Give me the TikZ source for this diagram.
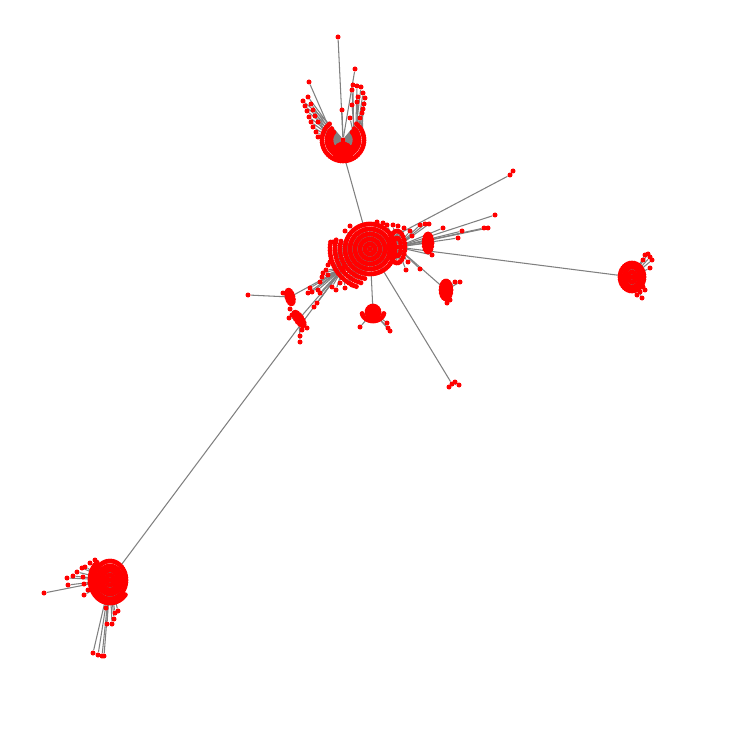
\documentclass[tikz,border=0pt]{standalone}
\usetikzlibrary{backgrounds}
\tikzset{
  >=latex,
}
\tikzstyle{vertex}=[circle,fill=red,inner sep=0pt,minimum size=0.1cm]
\tikzstyle{link}=[gray,line width=0.6pt]

% rings: hub/x radius/y radius/count/rotation
\def\ringlist{
  c/5/5/16/0, c/10/10/31/0, c/15/15/47/0, c/20/20/63/0, c/25/25/78/0,
  q/4/9/14/0, q/8/16/27/0,
  tb/4/4/10/0, tb/8/8/20/0,
  b/4/5/14/0, b/8/10/28/0, b/12/14/40/0, b/16/19/50/0,
  r/4/5/13/0, r/8/10/25/0, r/12/14/36/0,
  s/3/3/8/0, s/6/6/17/0,
  e1/2/5/8/0, e1/4/9/16/0,
  e2/2/5/8/0, e2/5/9/18/0,
  f1/1.5/4/7/15, f1/3/7/14/15,
  f2/1.5/5/8/35, f2/3/8/15/35}
% open rings: hub/x radius/y radius/count/start/sweep
\def\arclist{
  t/12/12/24/-40/260, t/16/16/34/-45/270, t/21/21/44/-50/280,
  b/20/23/40/40/190, s/11/9/16/10/160,
  c/30/30/17/100/95, c/35/35/19/105/90, c/40/40/20/110/80}
% single leaves: end/x/y
\def\leaflist{
  c/377/222, c/383/223, c/350/226, c/345/231,
  q/387/225, q/393/225, q/398/226, q/404/228, q/410/231,
  q/420/225, q/425/224, q/429/224, q/443/228, q/462/231, q/458/238,
  q/495/215, q/488/228, q/484/228,
  q/432/255, q/420/269, q/408/262, q/406/270, q/412/236,
  l/308/293, l/312/292, l/310/288, l/320/282, l/322/277, l/323/273,
  l/318/290, l/328/265, l/330/262, l/317/303, l/314/307, l/320/293,
  l/332/287, l/340/283, l/328/275, l/335/250, l/333/242, l/326/270,
  l/336/290, l/345/288, l/352/285,
  f1/248/295, f1/283/293,
  f2/302/330, f2/300/336, f2/300/342, f2/292/315, f2/290/309,
  f2/289/318, f2/307/328,
  t/338/37, t-a2-33/309/82, t/355/69, t/342/110,
  t-a3-44/303/101, t-a3-43/305/106, t-a3-42/307/111, t-a3-41/309/117,
  t-a3-40/311/122, t-a3-39/313/127, t-a3-38/316/132, t-a3-37/318/137,
  t-a2-34/308/97, t-a2-33/311/104, t-a2-32/313/110, t-a2-31/315/116,
  t-a2-30/318/122,
  t-a1-1/353/85, t-a2-1/357/86, t-a3-0/361/87, t-a1-2/352/90,
  t-a3-1/363/93, t-a3-2/365/98, t-a3-3/364/104, t-a3-4/363/109,
  t-a3-5/362/113, t-a2-2/358/97, t-a2-3/357/102, t-a1-3/352/105,
  t-a2-4/360/118, t-a1-4/350/118,
  r/645/255, r/648/254, r/650/257, r/643/260, r/652/260, r/650/268,
  r/643/287, r/645/290, r/640/292, r/642/298, r/637/295,
  b/44/593, b/67/578, b/73/576, b/68/585, b/77/572, b/82/568,
  b/85/567, b/90/563, b/83/577, b/84/584, b/90/583, b/84/595,
  b/95/560, b/88/590,
  b/93/653, b/98/655, b/102/656, b/104/656, b/106/608, b/115/613,
  b/118/611, b/114/619, b/112/624, b/107/624,
  s/360/327, s/387/323, s/388/328, s/390/331,
  e2/455/282, e2/460/282, e2/447/303, e2/450/300,
  v/449/387, v/455/382, v/459/385,
  w/513/171}

\begin{document}
\begin{tikzpicture}[x=0.02cm,y=-0.02cm]
  \useasboundingbox (0,0) rectangle (736,736);

  % hubs
  \node[vertex] (c) at (370,249) {};
  \node[vertex] (l) at (343,268) {};
  \node[vertex] (q) at (397,247) {};
  \node[vertex] (t) at (343,140) {};
  \node[vertex] (tb) at (343,152) {};
  \node[vertex] (b) at (110,580) {};
  \node[vertex] (r) at (632,277) {};
  \node[vertex] (s) at (373,312) {};
  \node[vertex] (e1) at (428,243) {};
  \node[vertex] (e2) at (446,290) {};
  \node[vertex] (f1) at (290,297) {};
  \node[vertex] (f2) at (299,319) {};
  \node[vertex] (v) at (452,384) {};
  \node[vertex] (w) at (510,175) {};

  % full rings of leaves
  \foreach \h/\rx/\ry/\n/\rot [count=\i] in \ringlist
  {
    \begin{scope}[shift={(\h)},rotate=\rot]
      \foreach \k [evaluate=\k as \a using 360/\n*\k] in {1,...,\n}
        \node[vertex] (\h-\i-\k) at ({\rx*cos(\a)},{\ry*sin(\a)}) {};
    \end{scope}
  }

  % open rings
  \foreach \h/\rx/\ry/\n/\from/\sweep [count=\i] in \arclist
  {
    \begin{scope}[shift={(\h)}]
      \foreach \k [evaluate=\k as \a using \from+\sweep/\n*\k] in {0,...,\n}
        \node[vertex] (\h-a\i-\k) at ({\rx*cos(\a)},{\ry*sin(\a)}) {};
    \end{scope}
  }

  % single leaves
  \foreach \h/\x/\y [count=\i] in \leaflist
    \node[vertex] (lf\i) at (\x,\y) {};

  % edges behind the vertices
  \begin{scope}[on background layer]
    \draw[link] (c) -- (tb) (tb) -- (t) (c) -- (l) (c) -- (q) (l) -- (b)
      (q) -- (r) (c) -- (s) (q) -- (e1) (q) -- (e2) (l) -- (f1)
      (l) -- (f2) (c) -- (v) (c) -- (w);
    \foreach \h/\rx/\ry/\n/\rot [count=\i] in \ringlist
      \foreach \k in {1,...,\n}
        \draw[link] (\h) -- (\h-\i-\k);
    \foreach \h/\rx/\ry/\n/\from/\sweep [count=\i] in \arclist
      \foreach \k in {0,...,\n}
        \draw[link] (\h) -- (\h-a\i-\k);
    \foreach \h/\x/\y [count=\i] in \leaflist
      \draw[link] (\h) -- (lf\i);
  \end{scope}
\end{tikzpicture}
\end{document}
